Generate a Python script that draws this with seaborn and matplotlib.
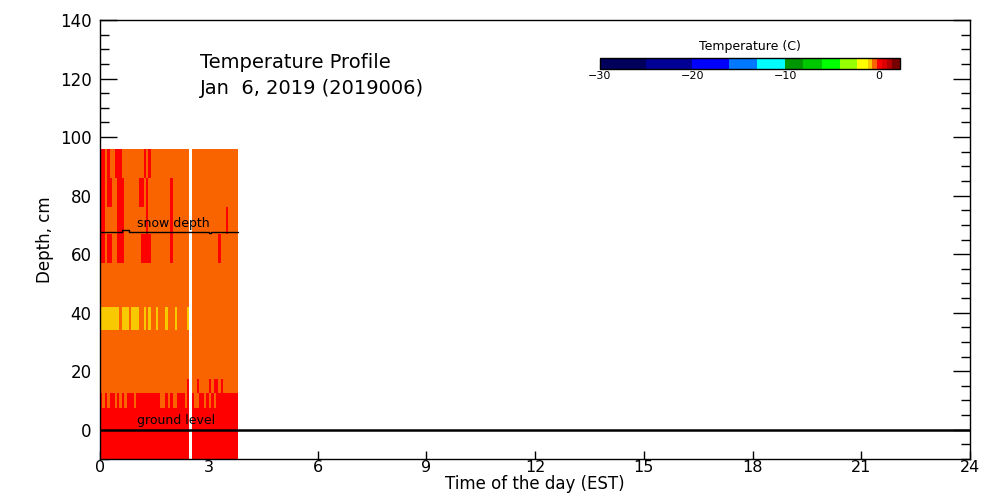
import numpy as np
import matplotlib
matplotlib.use('Agg')
import matplotlib.pyplot as plt
import seaborn as sns
from matplotlib.colors import ListedColormap, BoundaryNorm
from matplotlib.ticker import MultipleLocator

# readings every 4 minutes from 00:00 EST
step_h = 4 / 60
n_cols = 57

# sensor layer edges, cm (top to bottom)
layer_edges = [96, 86, 76, 67, 57, 42, 34, 17.5, 12.5, 7.5, -10]

# one string per layer, one char per reading
# r = red (~0 C), o = orange (~-0.5 C), y = yellow (~-1 C), . = missing
layers = [
    "rroroorrro" "ooooooooro" "rooooooooo" "ooooooo.oo" "oooooooooo" "ooooooo",
    "rrorroorrr" "oooooorror" "ooooooooor" "ooooooo.oo" "oooooooooo" "ooooooo",
    "rrooooorrr" "ooooooooor" "ooooooooor" "ooooooo.oo" "oooooooooo" "ooroooo",
    "rrorroorrr" "ooooooorrr" "roooooooor" "ooooooo.oo" "ooooooooor" "ooooooo",
    "oooooooooo" "oooooooooo" "oooooooooo" "ooooooo.oo" "oooooooooo" "ooooooo",
    "yyyyyyyyoy" "yyoyyyooyo" "yooyoooyoo" "oyooooy.oo" "oooooooooo" "ooooooo",
    "oooooooooo" "oooooooooo" "oooooooooo" "ooooooo.oo" "oooooooooo" "ooooooo",
    "oooooooooo" "oooooooooo" "oooooooooo" "oooooor.oo" "roooororro" "roooooo",
    "rororroror" "orrrorrrrr" "rrrrrooror" "oorrror.ro" "orrorororr" "rrrrrrr",
    "rrrrrrrrrr" "rrrrrrrrrr" "rrrrrrrrrr" "rrrrrrr.rr" "rrrrrrrrrr" "rrrrrrr",
]
code_temp = {"r": 0.0, "o": -0.5, "y": -1.0, ".": np.nan}

# snow depth per reading, cm
snow_depth = [
    67.6, 67.6, 67.6, 67.6, 67.6, 67.6, 67.6, 67.6, 67.6, 68.1,
    68.1, 68.1, 67.7, 67.7, 67.7, 67.7, 67.7, 67.7, 67.7, 67.7,
    67.7, 67.7, 67.7, 67.7, 67.7, 67.7, 67.7, 67.7, 67.7, 67.7,
    67.7, 67.7, 67.7, 67.7, 67.5, 67.5, 67.5, 67.5, 67.5, 67.5,
    67.5, 67.5, 67.5, 67.5, 67.5, 67.1, 67.6, 67.6, 67.6, 67.6,
    67.6, 67.6, 67.6, 67.6, 67.6, 67.6, 67.6,
]
ground_level = 0

# colour scale of the temperature bar
levels = [-30, -25.05, -20.1, -16.1, -13.1, -10.1, -8.2, -6.1, -4.2,
          -2.4, -1.2, -0.75, -0.2, 0.3, 0.86, 1.4, 2.26]
level_colors = ["#00005c", "#000096", "#0000ff", "#0078ff", "#00ffff",
                "#009600", "#00c800", "#00ff00", "#96ff00", "#ffff00",
                "#f8c800", "#fa6400", "#ff0000", "#dc0000", "#b40000",
                "#780000"]
cbar_ticks = [-30, -20, -10, 0]

sns.set_theme(style="ticks", rc={"axes.edgecolor": "black",
                                 "xtick.color": "black",
                                 "ytick.color": "black",
                                 "text.color": "black",
                                 "axes.labelcolor": "black"})
plt.rcParams["font.family"] = ["DejaVu Sans"]

temps = np.array([[code_temp[c] for c in row] for row in layers])[::-1]
depth_edges = np.array(layer_edges)[::-1]
time_edges = np.arange(n_cols + 1) * step_h

cmap = ListedColormap(level_colors)
norm = BoundaryNorm(levels, cmap.N)

fig = plt.figure(figsize=(10, 5), dpi=100)
ax = fig.add_axes([0.1, 41 / 500, 0.87, 439 / 500])
ax.pcolormesh(time_edges, depth_edges, np.ma.masked_invalid(temps),
              cmap=cmap, norm=norm, edgecolors="none", antialiased=False)

# snow depth as a step line over the readings
t_line = np.append(np.arange(n_cols) * step_h, n_cols * step_h)
d_line = snow_depth + [snow_depth[-1]]
sns.lineplot(x=t_line, y=d_line, ax=ax, color="black", linewidth=1,
             drawstyle="steps-post", sort=False)
ax.axhline(ground_level, color="black", linewidth=1.8)

ax.text(2.03, 70.5, "snow depth", fontsize=9, ha="center", va="center")
ax.text(2.1, 3.2, "ground level", fontsize=9, ha="center", va="center")

ax.set_xlim(0, 24)
ax.set_ylim(-10, 140)
ax.xaxis.set_major_locator(MultipleLocator(3))
ax.yaxis.set_major_locator(MultipleLocator(20))
ax.yaxis.set_minor_locator(MultipleLocator(5))
ax.tick_params(axis="y", which="major", direction="in", length=12,
               width=1, left=True, right=True, labelsize=12, pad=6)
ax.tick_params(axis="y", which="minor", direction="in", length=6.5,
               width=1, left=True, right=True)
ax.tick_params(axis="x", which="major", direction="in", length=6,
               width=1, bottom=True, top=False, labelsize=11.5, pad=1)
for sp in ax.spines.values():
    sp.set_visible(True)
    sp.set_linewidth(1)
ax.set_xlabel("Time of the day (EST)", fontsize=12, labelpad=0)
ax.set_ylabel("Depth, cm", fontsize=12, labelpad=4)

fig.text(0.2, 0.874, "Temperature Profile", fontsize=14, va="center")
fig.text(0.2, 0.824, "Jan  6, 2019 (2019006)", fontsize=14, va="center")

cax = fig.add_axes([0.6, 1 - 69 / 500, 0.3, 11 / 500])
cb = matplotlib.colorbar.ColorbarBase(cax, cmap=cmap, norm=norm,
                                      orientation="horizontal",
                                      spacing="proportional",
                                      ticks=cbar_ticks)
cb.minorticks_off()
cb.outline.set_linewidth(1)
cb.outline.set_edgecolor("black")
cax.tick_params(which="both", labelsize=8, length=3, direction="in",
                pad=1.5, width=0.8, top=False, bottom=True)
cax.set_title("Temperature (C)", fontsize=9, pad=6)

fig.savefig("out.png", dpi=100)
